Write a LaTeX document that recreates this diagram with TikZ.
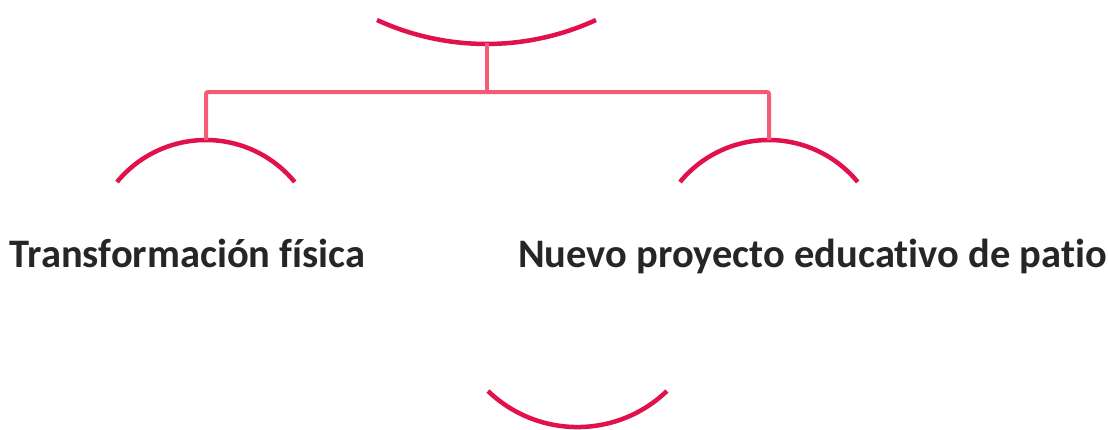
\documentclass[tikz,border=0pt]{standalone}
\usepackage{fontspec}
\setmainfont[Ligatures=NoCommon]{Carlito}
\usetikzlibrary{positioning, calc}
\definecolor{arccol}{HTML}{E1124B}
\definecolor{linkcol}{HTML}{F65B75}
\definecolor{txtcol}{HTML}{262626}
\begin{document}
\begin{tikzpicture}[
  x=1pt, y=-1pt,
  hood/.style={draw=arccol, line width=4.5pt},
  link/.style={draw=linkcol, line width=4pt, rounded corners=2pt},
  lbl/.style={font=\fontsize{40.5}{48}\selectfont\bfseries, text=txtcol, inner sep=0pt, anchor=base}
]
\useasboundingbox (0,0) rectangle (1108,429);
% arc tops
\coordinate (top) at (487,43);
\coordinate (lefttop) at (206,140);
\coordinate (righttop) at (769,140);
\coordinate (mid) at (487,92);
% arcs
\draw[hood] (377,20) arc[start angle=114.7, end angle=65.3, radius=262];
\draw[hood] (117,182) arc[start angle=219.4, end angle=320.6, radius=115];
\draw[hood] (680,182) arc[start angle=219.4, end angle=320.6, radius=115];
\draw[hood] (488,391) arc[start angle=133.9, end angle=46.1, radius=129];
% labels
\node[lbl] (phys) at (187.5,267) {Transformación física};
\node[lbl] (proj) at (812.5,267) {Nuevo proyecto educativo de patio};
% connectors
\draw[link] (top) -- (mid);
\draw[link] (lefttop) |- (mid) -| (righttop);
\end{tikzpicture}
\end{document}
